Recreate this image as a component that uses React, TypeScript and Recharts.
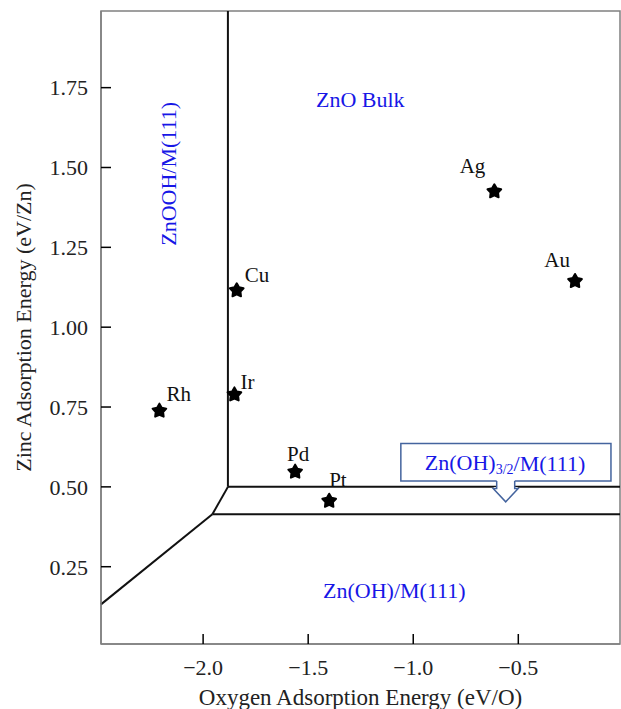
import React from 'react';
import { ScatterChart, Scatter, XAxis, YAxis, ReferenceLine, ReferenceArea, ReferenceDot } from 'recharts';

// ---- data ----
const metals = ['Cu', 'Rh', 'Ir', 'Pd', 'Pt', 'Ag', 'Au'];
const oxygenEnergy = [-1.84, -2.208, -1.851, -1.562, -1.4, -0.614, -0.23];
const zincEnergy = [1.115, 0.738, 0.789, 0.547, 0.456, 1.425, 1.144];

const xTicks = [-2.0, -1.5, -1.0, -0.5];
const yTicks = [0.25, 0.5, 0.75, 1.0, 1.25, 1.5, 1.75];
const xDomain: [number, number] = [-2.486, -0.016];
const yDomain: [number, number] = [0.008, 1.99];

// phase boundary segments: start (x, y) -> end (x, y)
const boundaryStartX = [-1.882, -1.882, -1.956, -1.882, -1.956];
const boundaryStartY = [0.5, 0.5, 0.414, 0.5, 0.414];
const boundaryEndX = [-1.882, -0.016, -0.016, -1.956, -2.486];
const boundaryEndY = [1.99, 0.5, 0.414, 0.414, 0.132];

// phase region labels
const regionNames = ['ZnO Bulk', 'ZnOOH/M(111)', 'Zn(OH)/M(111)'];
const regionX = [-1.252, -2.167, -1.09];
const regionY = [1.714, 1.48, 0.177];
const regionRotated = [false, true, false];

// callout box for Zn(OH)3/2/M(111)
const calloutBoxX = [-1.059, -0.059];
const calloutBoxY = [0.518, 0.636];
const calloutTextX = -0.563;
const calloutTextY = 0.575;
const calloutApexX = -0.56;
const calloutApexY = 0.453;

// label placement (style)
const labelPlacement: Record<string, { dx: number; dy: number; anchor: 'start' | 'middle' | 'end' }> = {
  Cu: { dx: 8, dy: -15, anchor: 'start' },
  Rh: { dx: 7, dy: -17, anchor: 'start' },
  Ir: { dx: 6, dy: -13, anchor: 'start' },
  Pd: { dx: 3, dy: -18, anchor: 'middle' },
  Pt: { dx: 0, dy: -21, anchor: 'start' },
  Ag: { dx: -9, dy: -25, anchor: 'end' },
  Au: { dx: -5, dy: -21, anchor: 'end' },
};

const points = metals.map((m, i) => ({ name: m, x: oxygenEnergy[i], y: zincEnergy[i] }));
const regions = regionNames.map((n, i) => ({ name: n, x: regionX[i], y: regionY[i], rotated: regionRotated[i] }));

const SERIF = 'Liberation Serif, Times New Roman, DejaVu Serif, serif';
const BLUE = '#1717e6';
const BOX = '#44649e';

const starPath = (cx: number, cy: number, ro: number, ri: number) => {
  let d = '';
  for (let k = 0; k < 10; k++) {
    const r = k % 2 === 0 ? ro : ri;
    const a = -Math.PI / 2 + (k * Math.PI) / 5;
    d += (k === 0 ? 'M' : 'L') + (cx + r * Math.cos(a)).toFixed(2) + ',' + (cy + r * Math.sin(a)).toFixed(2);
  }
  return d + 'Z';
};

const StarShape = (props: any) => {
  const { cx, cy, payload } = props;
  if (cx == null || cy == null) return null;
  const p = labelPlacement[payload.name] || { dx: 6, dy: -15, anchor: 'start' };
  return (
    <g>
      <path d={starPath(cx, cy, 7.2, 3.9)} fill="#000" stroke="#000" strokeWidth={2} strokeLinejoin="round" />
      <text
        x={cx + p.dx}
        y={cy + p.dy}
        textAnchor={p.anchor}
        dominantBaseline="central"
        style={{ fontFamily: SERIF, fontSize: 21 }}
        fill="#111"
      >
        {payload.name}
      </text>
    </g>
  );
};

const RegionLabel = (props: any) => {
  const { cx, cy, payload } = props;
  if (cx == null || cy == null) return null;
  return (
    <text
      x={cx}
      y={cy}
      textAnchor="middle"
      dominantBaseline="central"
      style={{ fontFamily: SERIF, fontSize: 22 }}
      fill={BLUE}
      transform={payload.rotated ? `rotate(-90 ${cx} ${cy})` : undefined}
    >
      {payload.name}
    </text>
  );
};

const CalloutText = (props: any) => {
  const { cx, cy } = props;
  if (cx == null || cy == null) return null;
  return (
    <text x={cx} y={cy} textAnchor="middle" dominantBaseline="central" style={{ fontFamily: SERIF, fontSize: 22 }} fill={BLUE}>
      Zn(OH)
      <tspan style={{ fontSize: 14 }} dy={6}>3/2</tspan>
      <tspan dy={-6}>/M(111)</tspan>
    </text>
  );
};

const CalloutPointer = (props: any) => {
  const { cx, cy } = props;
  if (cx == null || cy == null) return null;
  const top = cy - 21;
  const base = cy - 13.4;
  const sw = 9;
  const tw = 12.5;
  const pts = [
    [cx - sw, top],
    [cx - sw, base],
    [cx - tw, base],
    [cx, cy],
    [cx + tw, base],
    [cx + sw, base],
    [cx + sw, top],
  ];
  const ptsStr = pts.map((q) => q.join(',')).join(' ');
  return (
    <g>
      <polygon points={ptsStr} fill="#fff" stroke="none" transform="translate(0,-1.5)" />
      <polygon points={ptsStr} fill="#fff" stroke="none" />
      <polyline points={ptsStr} fill="none" stroke={BOX} strokeWidth={1.5} strokeLinejoin="miter" />
    </g>
  );
};

const fmtX = (v: number) => (v < 0 ? '\u2212' + Math.abs(v).toFixed(1) : v.toFixed(1));
const fmtY = (v: number) => v.toFixed(2);

export default function App() {
  return (
    <div style={{ width: 621, height: 709, background: '#fff' }}>
      <style>{'html,body{margin:0;padding:0;overflow:hidden;}'}</style>
      <ScatterChart
        width={621}
        height={709}
        margin={{ top: 11, right: 1, left: 0, bottom: 0 }}
        style={{ background: '#fff', fontFamily: SERIF }}
      >
        <XAxis
          type="number"
          dataKey="x"
          domain={xDomain}
          ticks={xTicks}
          allowDataOverflow
          tickFormatter={fmtX}
          height={65}
          tickSize={-10}
          tickMargin={25}
          axisLine={{ stroke: '#808080', strokeWidth: 1.5 }}
          tickLine={{ stroke: '#000', strokeWidth: 1.5 }}
          tick={{ fill: '#222', fontFamily: SERIF, fontSize: 22 }}
          label={{
            value: 'Oxygen Adsorption Energy (eV/O)',
            position: 'insideBottom',
            offset: 4,
            fill: '#222',
            fontFamily: SERIF,
            fontSize: 23,
          }}
        />
        <YAxis
          type="number"
          dataKey="y"
          domain={yDomain}
          ticks={yTicks}
          allowDataOverflow
          tickFormatter={fmtY}
          width={101}
          tickSize={-10}
          tickMargin={23}
          axisLine={{ stroke: '#808080', strokeWidth: 1.5 }}
          tickLine={{ stroke: '#000', strokeWidth: 1.5 }}
          tick={{ fill: '#222', fontFamily: SERIF, fontSize: 22 }}
          label={{
            value: 'Zinc Adsorption Energy (eV/Zn)',
            angle: -90,
            position: 'insideLeft',
            offset: 23,
            textAnchor: 'middle',
            fill: '#222',
            fontFamily: SERIF,
            fontSize: 22,
          }}
        />
        <ReferenceArea
          x1={xDomain[0]}
          x2={xDomain[1]}
          y1={yDomain[0]}
          y2={yDomain[1]}
          fill="none"
          fillOpacity={0}
          stroke="#808080"
          strokeWidth={1.5}
        />
        {boundaryStartX.map((x1, i) => (
          <ReferenceLine
            key={'b' + i}
            segment={[
              { x: x1, y: boundaryStartY[i] },
              { x: boundaryEndX[i], y: boundaryEndY[i] },
            ]}
            stroke="#111"
            strokeWidth={2}
          />
        ))}
        <ReferenceArea
          x1={calloutBoxX[0]}
          x2={calloutBoxX[1]}
          y1={calloutBoxY[0]}
          y2={calloutBoxY[1]}
          fill="#fff"
          fillOpacity={1}
          stroke={BOX}
          strokeWidth={1.5}
        />
        <ReferenceDot x={calloutApexX} y={calloutApexY} r={0} shape={CalloutPointer} />
        <ReferenceDot x={calloutTextX} y={calloutTextY} r={0} shape={CalloutText} />
        <Scatter data={regions} shape={RegionLabel} isAnimationActive={false} />
        <Scatter data={points} shape={StarShape} isAnimationActive={false} />
      </ScatterChart>
    </div>
  );
}
